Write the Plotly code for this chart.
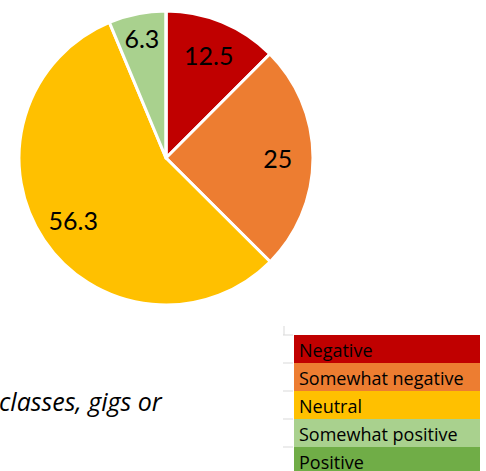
import plotly.graph_objects as go

categories = ["Negative", "Somewhat negative", "Neutral", "Somewhat positive", "Positive"]
values = [12.5, 25, 56.3, 6.3, 0]
colors = ["#C00000", "#ED7D31", "#FFC000", "#A9D18E", "#70AD47"]
caption = "classes, gigs or"

W, H = 486, 471

def px(x):
    return x / W

def py(y):
    return 1 - y / H

pie_domain = dict(x=[px(19), px(313)], y=[py(305), py(11)])
labels_text = [("%g" % v) if v > 0 else "" for v in values]

fig = go.Figure()
# filled slices
fig.add_trace(go.Pie(
    labels=categories,
    values=values,
    sort=False,
    direction="clockwise",
    rotation=0,
    marker=dict(colors=colors, line=dict(color="white", width=3)),
    textinfo="none",
    domain=pie_domain,
    showlegend=False,
    hoverinfo="label+value",
))
# transparent ring carrying the data labels (places them in the outer part of each slice)
fig.add_trace(go.Pie(
    labels=categories,
    values=values,
    sort=False,
    direction="clockwise",
    rotation=0,
    hole=0.52,
    marker=dict(colors=["rgba(0,0,0,0)"] * len(values), line=dict(width=0)),
    text=labels_text,
    textinfo="text",
    textposition="inside",
    insidetextorientation="horizontal",
    insidetextfont=dict(family="Lato", size=25, color="black"),
    domain=pie_domain,
    showlegend=False,
    hoverinfo="skip",
))

shapes = []
annotations = []
row_top = 335
row_h = 28
for i, (cat, col) in enumerate(zip(categories, colors)):
    y0 = row_top + i * row_h
    y1 = y0 + row_h
    shapes.append(dict(type="rect", xref="paper", yref="paper",
                       x0=px(294), x1=px(480), y0=py(y1), y1=py(y0),
                       fillcolor=col, line=dict(width=0), layer="below"))
    shapes.append(dict(type="line", xref="paper", yref="paper",
                       x0=px(283), x1=px(293), y0=py(y0), y1=py(y0),
                       line=dict(color="#D9D9D9", width=1)))
    annotations.append(dict(xref="paper", yref="paper", x=px(297), y=py(y0 + row_h / 2 + 1),
                            text=cat, showarrow=False, xanchor="left", yanchor="middle",
                            font=dict(family="Open Sans", size=18, color="black")))
shapes.append(dict(type="line", xref="paper", yref="paper",
                   x0=px(284), x1=px(284), y0=py(335), y1=py(326),
                   line=dict(color="#D9D9D9", width=1)))

annotations.append(dict(xref="paper", yref="paper", x=px(165), y=py(413),
                        text="<i>" + caption + "</i>", showarrow=False,
                        xanchor="right", yanchor="bottom", yshift=-7,
                        font=dict(family="Open Sans", size=25, color="black")))

fig.update_layout(
    width=W, height=H,
    margin=dict(l=0, r=0, t=0, b=0),
    paper_bgcolor="white", plot_bgcolor="white",
    shapes=shapes, annotations=annotations,
)

fig.write_html("out.html", config={"displayModeBar": False},
               post_script="document.body.style.margin='0';")
